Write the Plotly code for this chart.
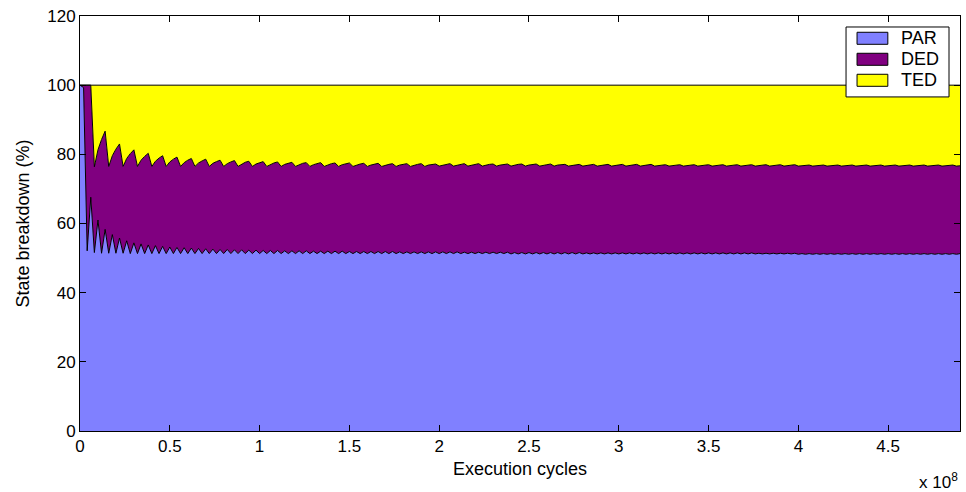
import plotly.graph_objects as go

# Sampling interval of the state monitor, in execution cycles
SAMPLE_CYCLES = 2_000_000

series_names = ["PAR", "DED", "TED"]
series_colors = ["#8080FF", "#800080", "#FFFF00"]

# Share of time spent in each state (%), one value per sample
par = [
    100.0, 99.3, 52.1, 67.6, 51.6, 61.0, 51.4, 58.3, 51.4, 56.8,
    51.4, 55.8, 51.4, 55.0, 51.3, 54.4, 51.3, 54.1, 51.3, 53.8,
    51.3, 53.6, 51.3, 53.4, 51.3, 53.2, 51.3, 53.1, 51.3, 53.0,
    51.3, 52.9, 51.3, 52.8, 51.3, 52.7, 51.3, 52.6, 51.3, 52.5,
    51.3, 52.5, 51.3, 52.4, 51.3, 52.4, 51.3, 52.3, 51.3, 52.3,
    51.3, 52.2, 51.3, 52.2, 51.3, 52.2, 51.3, 52.1, 51.3, 52.1,
    51.3, 52.1, 51.3, 52.1, 51.3, 52.0, 51.3, 52.0, 51.3, 52.0,
    51.3, 52.0, 51.3, 52.0, 51.3, 51.9, 51.3, 51.9, 51.3, 51.9,
    51.3, 51.9, 51.3, 51.9, 51.3, 51.9, 51.3, 51.9, 51.3, 51.8,
    51.3, 51.8, 51.3, 51.8, 51.3, 51.8, 51.3, 51.8, 51.3, 51.8,
    51.3, 51.8, 51.3, 51.8, 51.3, 51.8, 51.3, 51.7, 51.3, 51.7,
    51.3, 51.7, 51.3, 51.7, 51.3, 51.7, 51.3, 51.7, 51.3, 51.7,
    51.2, 51.6, 51.2, 51.6, 51.2, 51.6, 51.2, 51.6, 51.2, 51.6,
    51.2, 51.6, 51.2, 51.6, 51.2, 51.6, 51.2, 51.6, 51.2, 51.6,
    51.2, 51.5, 51.2, 51.5, 51.2, 51.5, 51.2, 51.5, 51.2, 51.5,
    51.2, 51.5, 51.2, 51.5, 51.2, 51.5, 51.2, 51.5, 51.2, 51.5,
    51.2, 51.5, 51.2, 51.5, 51.2, 51.5, 51.2, 51.5, 51.2, 51.5,
    51.2, 51.5, 51.2, 51.5, 51.2, 51.5, 51.2, 51.5, 51.2, 51.5,
    51.2, 51.5, 51.2, 51.5, 51.2, 51.5, 51.2, 51.5, 51.2, 51.4,
    51.2, 51.4, 51.2, 51.4, 51.2, 51.4, 51.2, 51.4, 51.2, 51.4,
    51.1, 51.3, 51.1, 51.3, 51.1, 51.3, 51.1, 51.3, 51.1, 51.3,
    51.1, 51.3, 51.1, 51.3, 51.1, 51.3, 51.1, 51.3, 51.1, 51.3,
    51.1, 51.3, 51.1, 51.3, 51.1, 51.3, 51.1, 51.3, 51.1, 51.3,
    51.1, 51.3, 51.1, 51.3, 51.1, 51.3, 51.1, 51.3, 51.1, 51.3,
    51.1, 51.3, 51.1, 51.3, 51.1, 51.3,
]

ded = [
    0.0, 0.7, 47.9, 32.4, 24.8, 20.3, 32.9, 28.4, 25.1, 22.8,
    30.1, 27.2, 25.1, 23.8, 28.9, 26.9, 25.2, 24.2, 28.1, 26.5,
    25.2, 24.4, 27.6, 26.2, 25.2, 24.6, 27.3, 26.1, 25.2, 24.6,
    27.0, 25.9, 25.2, 24.7, 26.8, 25.9, 25.2, 24.8, 26.6, 25.8,
    25.2, 24.8, 26.5, 25.8, 25.2, 24.8, 26.4, 25.7, 25.2, 24.9,
    26.3, 25.7, 25.2, 24.9, 26.2, 25.6, 25.2, 25.0, 26.1, 25.6,
    25.2, 24.9, 26.1, 25.5, 25.2, 25.0, 26.0, 25.6, 25.2, 25.0,
    26.0, 25.5, 25.2, 25.0, 25.9, 25.6, 25.2, 25.0, 25.9, 25.5,
    25.2, 25.0, 25.9, 25.5, 25.2, 25.0, 25.8, 25.4, 25.2, 25.1,
    25.8, 25.5, 25.2, 25.1, 25.8, 25.5, 25.2, 25.1, 25.8, 25.4,
    25.3, 25.1, 25.8, 25.5, 25.3, 25.1, 25.8, 25.6, 25.3, 25.2,
    25.8, 25.6, 25.3, 25.2, 25.8, 25.5, 25.3, 25.2, 25.8, 25.5,
    25.4, 25.3, 25.9, 25.6, 25.4, 25.3, 25.8, 25.6, 25.4, 25.3,
    25.8, 25.6, 25.4, 25.3, 25.8, 25.5, 25.4, 25.2, 25.8, 25.5,
    25.4, 25.3, 25.8, 25.6, 25.4, 25.3, 25.8, 25.6, 25.4, 25.3,
    25.8, 25.6, 25.4, 25.3, 25.8, 25.6, 25.4, 25.3, 25.7, 25.6,
    25.4, 25.3, 25.7, 25.5, 25.4, 25.3, 25.7, 25.5, 25.4, 25.3,
    25.7, 25.5, 25.4, 25.3, 25.7, 25.5, 25.4, 25.3, 25.7, 25.5,
    25.4, 25.3, 25.7, 25.5, 25.4, 25.3, 25.7, 25.5, 25.4, 25.4,
    25.7, 25.6, 25.4, 25.4, 25.7, 25.6, 25.4, 25.4, 25.7, 25.6,
    25.5, 25.4, 25.7, 25.6, 25.5, 25.4, 25.7, 25.6, 25.5, 25.4,
    25.7, 25.6, 25.5, 25.4, 25.7, 25.6, 25.5, 25.4, 25.7, 25.6,
    25.5, 25.4, 25.7, 25.6, 25.5, 25.4, 25.7, 25.6, 25.5, 25.4,
    25.7, 25.6, 25.5, 25.4, 25.7, 25.6, 25.5, 25.4, 25.7, 25.6,
    25.5, 25.4, 25.7, 25.6, 25.5, 25.4,
]

ted = [
    0.0, 0.0, 0.0, 0.0, 23.6, 18.7, 15.7, 13.3, 23.5, 20.4,
    18.5, 17.0, 23.5, 21.2, 19.8, 18.7, 23.5, 21.7, 20.6, 19.7,
    23.5, 22.0, 21.1, 20.4, 23.5, 22.2, 21.4, 20.8, 23.5, 22.4,
    21.7, 21.2, 23.5, 22.5, 21.9, 21.4, 23.5, 22.6, 22.1, 21.7,
    23.5, 22.7, 22.2, 21.8, 23.5, 22.8, 22.3, 22.0, 23.5, 22.8,
    22.4, 22.1, 23.5, 22.9, 22.5, 22.2, 23.5, 22.9, 22.6, 22.3,
    23.5, 23.0, 22.6, 22.4, 23.5, 23.0, 22.7, 22.4, 23.5, 23.0,
    22.7, 22.5, 23.5, 23.0, 22.8, 22.5, 23.5, 23.1, 22.8, 22.6,
    23.5, 23.1, 22.8, 22.6, 23.5, 23.1, 22.9, 22.7, 23.5, 23.1,
    22.9, 22.7, 23.5, 23.1, 22.9, 22.7, 23.5, 23.1, 22.9, 22.8,
    23.4, 23.1, 22.9, 22.7, 23.4, 23.1, 22.9, 22.7, 23.4, 23.1,
    22.9, 22.7, 23.4, 23.1, 22.9, 22.8, 23.4, 23.1, 22.9, 22.8,
    23.4, 23.1, 22.9, 22.8, 23.4, 23.1, 23.0, 22.8, 23.4, 23.1,
    23.0, 22.8, 23.4, 23.1, 23.0, 22.9, 23.4, 23.2, 23.0, 22.9,
    23.4, 23.2, 23.0, 22.9, 23.4, 23.2, 23.0, 22.9, 23.4, 23.2,
    23.0, 22.9, 23.4, 23.2, 23.0, 22.9, 23.4, 23.2, 23.1, 22.9,
    23.4, 23.2, 23.1, 23.0, 23.4, 23.2, 23.1, 23.0, 23.4, 23.2,
    23.1, 23.0, 23.4, 23.2, 23.1, 23.0, 23.4, 23.2, 23.1, 23.0,
    23.4, 23.2, 23.1, 23.0, 23.4, 23.2, 23.1, 23.0, 23.4, 23.2,
    23.1, 23.0, 23.4, 23.2, 23.1, 23.0, 23.4, 23.2, 23.1, 23.0,
    23.4, 23.3, 23.2, 23.1, 23.4, 23.3, 23.2, 23.1, 23.4, 23.3,
    23.2, 23.1, 23.4, 23.3, 23.2, 23.1, 23.4, 23.3, 23.2, 23.1,
    23.4, 23.3, 23.2, 23.1, 23.4, 23.3, 23.2, 23.1, 23.4, 23.3,
    23.2, 23.1, 23.4, 23.3, 23.2, 23.1, 23.4, 23.3, 23.2, 23.1,
    23.4, 23.3, 23.2, 23.1, 23.4, 23.3,
]

x_tick_vals = [0, 0.5e8, 1e8, 1.5e8, 2e8, 2.5e8, 3e8, 3.5e8, 4e8, 4.5e8]
x_tick_text = ["0", "0.5", "1", "1.5", "2", "2.5", "3", "3.5", "4", "4.5"]
y_tick_vals = [0, 20, 40, 60, 80, 100, 120]

FONT = "Liberation Sans, Arial, Helvetica, sans-serif"
TICK_SIZE = 17
LABEL_SIZE = 18

fig = go.Figure()
for name, color, values in zip(series_names, series_colors, [par, ded, ted]):
    fig.add_trace(go.Scatter(
        x0=0, dx=SAMPLE_CYCLES, y=values,
        name=name, mode="lines", stackgroup="states",
        line=dict(color="black", width=1),
        fillcolor=color, hoverinfo="skip", showlegend=False,
    ))

axis_common = dict(
    showline=True, linecolor="black", linewidth=1, mirror="ticks",
    ticks="inside", ticklen=6, tickcolor="black", tickwidth=1,
    showgrid=False, zeroline=False,
    tickfont=dict(family=FONT, size=TICK_SIZE, color="black"),
)

fig.update_xaxes(
    range=[0, 4.9e8], tickvals=x_tick_vals, ticktext=x_tick_text,
    title=dict(text="Execution cycles", font=dict(family=FONT, size=LABEL_SIZE, color="black"), standoff=6),
    **axis_common,
)
fig.update_yaxes(
    range=[0, 120], tickvals=y_tick_vals,
    title=dict(text="State breakdown (%)", font=dict(family=FONT, size=LABEL_SIZE, color="black"), standoff=12),
    **axis_common,
)

# Axis exponent under the right end of the x axis
fig.add_annotation(
    xref="paper", yref="paper", x=1.0, y=-0.09, xanchor="right", yanchor="top",
    text="x 10<sup>8</sup>", showarrow=False,
    font=dict(family=FONT, size=TICK_SIZE, color="black"),
)

# Boxed legend with rectangular colour swatches (upper right of the axes)
LEG_X0, LEG_X1 = 0.8705, 0.9875
LEG_Y0, LEG_Y1 = 0.805, 0.9735
SW_X0, SW_X1 = 0.883, 0.918
SW_H = 0.029
row_centers = [0.9463, 0.8957, 0.8451]

fig.add_shape(type="rect", xref="paper", yref="paper",
              x0=LEG_X0, x1=LEG_X1, y0=LEG_Y0, y1=LEG_Y1,
              line=dict(color="black", width=1), fillcolor="white", layer="above")
for name, color, yc in zip(series_names, series_colors, row_centers):
    fig.add_shape(type="rect", xref="paper", yref="paper",
                  x0=SW_X0, x1=SW_X1, y0=yc - SW_H / 2, y1=yc + SW_H / 2,
                  line=dict(color="black", width=1), fillcolor=color, layer="above")
    fig.add_annotation(xref="paper", yref="paper", x=0.931, y=yc,
                       xanchor="left", yanchor="middle", text=name, showarrow=False,
                       font=dict(family=FONT, size=LABEL_SIZE, color="black"))

fig.update_layout(
    width=966, height=492,
    margin=dict(l=80, r=6, t=16, b=61),
    paper_bgcolor="white", plot_bgcolor="white",
    font=dict(family=FONT, size=TICK_SIZE, color="black"),
    showlegend=False,
)

fig.write_html("out.html")
